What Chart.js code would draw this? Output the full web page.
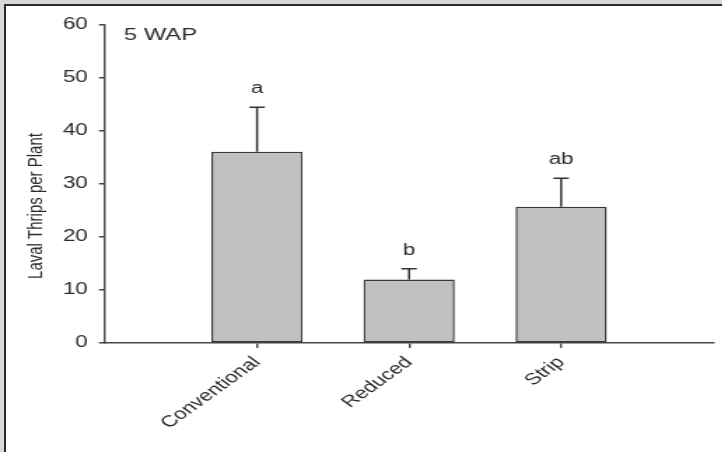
<!DOCTYPE html>
<html>
<head>
<meta charset="utf-8">
<script src="https://cdn.jsdelivr.net/npm/chart.js@4.4.1/dist/chart.umd.min.js"></script>
<style>
  html, body { margin: 0; padding: 0; background: #d7d7d7; width: 722px; height: 452px; overflow: hidden; }
  #frame { position: absolute; left: 4px; top: 4px; width: 718px; height: 448px; background: #fff;
           border-left: 2px solid #2a2a2a; border-top: 2px solid #2a2a2a; box-sizing: border-box; }
  #wrap { position: absolute; left: 0; top: 0; width: 528px; height: 452px;
          transform: scale(1.4, 1); transform-origin: 0 0; }
</style>
</head>
<body>
<div id="frame"></div>
<div id="wrap"><canvas id="c" width="528" height="452"></canvas></div>
<script>
const categories = ['', 'Conventional', 'Reduced', 'Strip', ''];
const means = [null, 36.1, 12.0, 25.7, null];
const stdErrors = [null, 8.4, 2.0, 5.4, null];
const letters = ['', 'a', 'b', 'ab', ''];
const yTicks = [0, 10, 20, 30, 40, 50, 60];
const yTitle = 'Laval Thrips per Plant';
const panelLabel = '5 WAP';

const FONT = '"Liberation Sans", Arial, sans-serif';
const INK = '#2b2b2b';

const annotations = {
  id: 'annotations',
  afterDatasetsDraw(chart) {
    const ctx = chart.ctx;
    const y = chart.scales.y;
    const meta = chart.getDatasetMeta(0);
    ctx.save();
    meta.data.forEach((bar, i) => {
      if (means[i] == null) return;
      const top = y.getPixelForValue(means[i]);
      const errTop = y.getPixelForValue(means[i] + stdErrors[i]);
      ctx.strokeStyle = '#333';
      ctx.lineWidth = 1.5;
      ctx.beginPath();
      ctx.moveTo(bar.x, top);
      ctx.lineTo(bar.x, errTop);
      ctx.moveTo(bar.x - 5.5, errTop);
      ctx.lineTo(bar.x + 5.5, errTop);
      ctx.stroke();
      ctx.fillStyle = INK;
      ctx.font = '16px ' + FONT;
      ctx.textAlign = 'center';
      ctx.textBaseline = 'alphabetic';
      ctx.fillText(letters[i], bar.x, errTop - 14);
    });
    ctx.textAlign = 'left';
    ctx.font = '17px ' + FONT;
    ctx.fillText(panelLabel, 88.5, 40);
    ctx.translate(25.5, 206);
    ctx.rotate(-Math.PI / 2);
    ctx.textAlign = 'center';
    ctx.textBaseline = 'middle';
    ctx.font = '15px ' + FONT;
    ctx.fillText(yTitle, 0, 0);
    ctx.restore();
  }
};

new Chart(document.getElementById('c'), {
  type: 'bar',
  data: {
    labels: categories,
    datasets: [{
      data: means,
      backgroundColor: '#c0c0c0',
      borderColor: '#3a3a3a',
      borderWidth: 1.5,
      borderSkipped: false,
      categoryPercentage: 1,
      barPercentage: 0.6
    }]
  },
  options: {
    responsive: false,
    animation: false,
    events: [],
    layout: { padding: { left: 0, top: 25, right: 0, bottom: 0 } },
    plugins: { legend: { display: false }, tooltip: { enabled: false } },
    scales: {
      x: {
        type: 'category',
        offset: false,
        border: { display: true, color: '#444', width: 1.5 },
        grid: {
          offset: false,
          drawOnChartArea: false, drawTicks: true, tickLength: 5, lineWidth: 1.4,
          color: (c) => (categories[c.index] ? '#444' : 'rgba(0,0,0,0)')
        },
        ticks: {
          autoSkip: false, maxRotation: 45, minRotation: 45, padding: 5,
          color: INK, font: { family: FONT, size: 16 }
        },
        afterFit(scale) { scale.height = 109; }
      },
      y: {
        min: 0, max: 60,
        border: { display: true, color: '#444', width: 1.4 },
        grid: { drawOnChartArea: false, drawTicks: true, tickLength: 4.3, lineWidth: 1.5, color: '#444' },
        afterBuildTicks(scale) { scale.ticks = yTicks.map(v => ({ value: v })); },
        ticks: { padding: 8, color: INK, font: { family: FONT, size: 16 } },
        afterFit(scale) { scale.width = 75; }
      }
    }
  },
  plugins: [annotations]
});
</script>
</body>
</html>
